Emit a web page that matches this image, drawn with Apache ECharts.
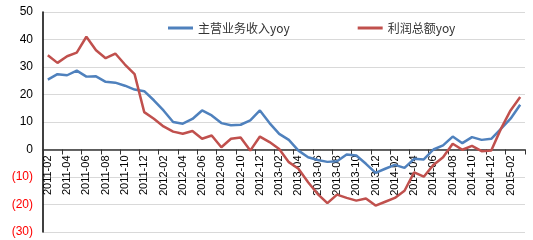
<!DOCTYPE html>
<html><head><meta charset="utf-8">
<script src="https://cdn.jsdelivr.net/npm/echarts@6/dist/echarts.min.js"></script>
<style>html,body{margin:0;padding:0;background:#fff}#c{width:533px;height:240px}</style>
</head><body><div id="c"></div>
<script>
var categories = ['2011-02','2011-03','2011-04','2011-05','2011-06','2011-07','2011-08','2011-09','2011-10','2011-11','2011-12',
'2012-01','2012-02','2012-03','2012-04','2012-05','2012-06','2012-07','2012-08','2012-09','2012-10','2012-11','2012-12',
'2013-01','2013-02','2013-03','2013-04','2013-05','2013-06','2013-07','2013-08','2013-09','2013-10','2013-11','2013-12',
'2014-01','2014-02','2014-03','2014-04','2014-05','2014-06','2014-07','2014-08','2014-09','2014-10','2014-11','2014-12',
'2015-01','2015-02','2015-03'];
var revenueYoy = [25.4,27.4,27,28.7,26.5,26.6,24.6,24.3,23.2,21.8,21.2,
17.9,14.2,10,9.4,11.1,14.2,12.4,9.6,8.8,9,10.6,14.2,
9.6,5.7,3.5,-0.4,-2.8,-3.8,-4.5,-4.3,-1.8,-2.2,-5.2,-8.5,
-7,-5.6,-6.7,-3.4,-3.6,0,1.5,4.7,2.3,4.5,3.5,3.9,
7.5,11.2,16.3];
var profitYoy = [34.3,31.5,33.9,35.2,41,36.1,33.2,34.9,30.9,27.4,13.6,
11.2,8.4,6.5,5.7,6.7,3.9,5.1,0.8,3.9,4.4,-0.4,4.7,
2.7,0.2,-4.6,-7,-11.9,-16.2,-19.5,-16.4,-17.6,-18.6,-17.8,-20.4,
-19,-17.6,-15,-8.3,-9.9,-5.6,-2.8,2.1,-0.1,1.3,-0.6,-0.4,
7.5,14.2,19.1];
var seriesNames = ['主营业务收入yoy','利润总额yoy'];

var chart = echarts.init(document.getElementById('c'));
chart.setOption({
  animation:false,
  textStyle:{fontFamily:'Noto Sans CJK SC, Liberation Sans, sans-serif'},
  legend:{
    data:seriesNames, left:163, top:17, itemWidth:25, itemHeight:3, itemGap:68,
    icon:'rect',
    textStyle:{fontSize:12,color:'#333'}
  },
  grid:{left:43,right:8,top:12,bottom:8,containLabel:false,outerBoundsMode:'none'},
  xAxis:{
    type:'category', data:categories, boundaryGap:true,
    position:'bottom', offset:-82.5,
    axisLine:{onZero:false,lineStyle:{color:'#333',width:1.5}},
    axisTick:{show:true,interval:1,length:5,lineStyle:{color:'#333'}},
    axisLabel:{interval:1,rotate:90,fontSize:11,color:'#000',margin:6,fontFamily:'Liberation Sans, sans-serif'},
    splitLine:{show:false}
  },
  yAxis:{
    type:'value', min:-30, max:50, interval:10,
    axisLine:{show:true,lineStyle:{color:'#000',width:1.5}},
    axisTick:{show:false},
    splitLine:{lineStyle:{color:'#d9d9d9',width:1}},
    axisLabel:{
      fontSize:12, margin:10, fontFamily:'Liberation Sans, sans-serif',
      formatter:function(v){ return v<0 ? '{neg|('+Math.abs(v)+')}' : '{pos|'+v+'}'; },
      rich:{neg:{color:'#ff0000',fontSize:12,fontFamily:'Liberation Sans, sans-serif'},
            pos:{color:'#000',fontSize:12,fontFamily:'Liberation Sans, sans-serif'}}
    }
  },
  series:[
    {name:seriesNames[0],type:'line',data:revenueYoy,symbol:'none',lineStyle:{color:'#4F81BD',width:2.5},itemStyle:{color:'#4F81BD'}},
    {name:seriesNames[1],type:'line',data:profitYoy,symbol:'none',lineStyle:{color:'#C0504D',width:2.5},itemStyle:{color:'#C0504D'}}
  ]
});
</script></body></html>
